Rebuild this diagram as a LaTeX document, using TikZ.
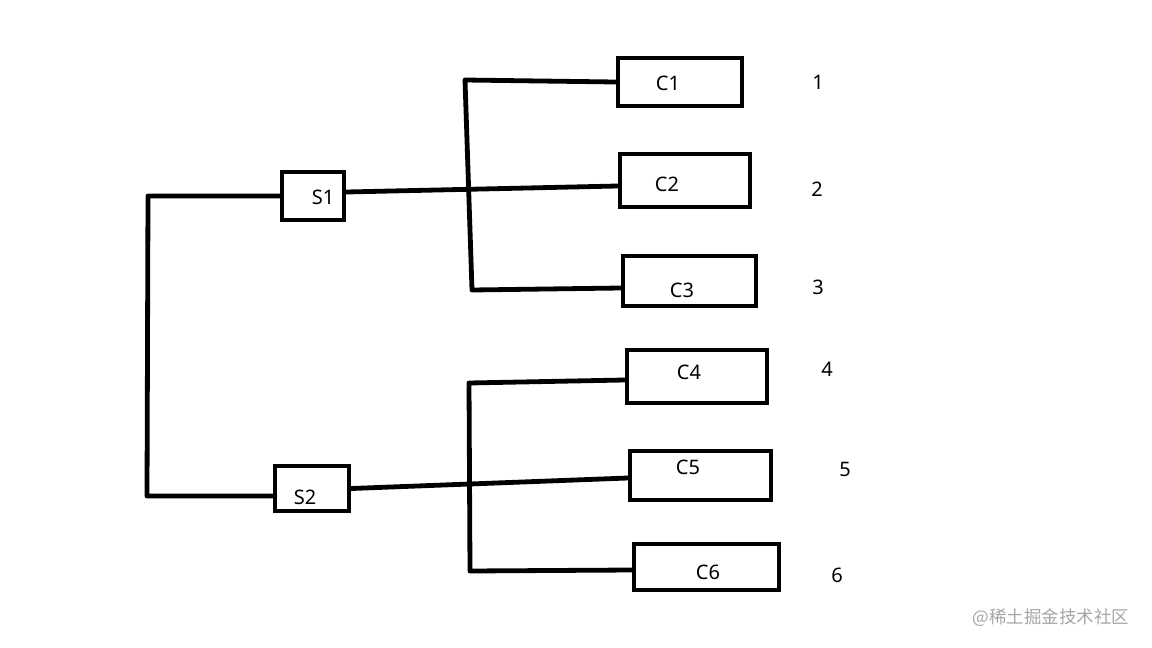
\documentclass[tikz,border=0pt]{standalone}
\usepackage{fontspec}
\setmainfont{Noto Sans}
\newfontfamily\cjk{Noto Sans CJK SC}
\begin{document}
\begin{tikzpicture}[x=1pt,y=-1pt,
  wire/.style={line width=4.8pt,line join=round,line cap=round},
  box/.style={draw,line width=4.8pt,rectangle,inner sep=0pt},
  lbl/.style={font=\fontsize{20}{24}\selectfont},
  num/.style={font=\fontsize{20}{24}\selectfont}]
\useasboundingbox[fill=white] (0,0) rectangle (1152,648);
% boxes
\node[box,minimum width=62pt,minimum height=48pt,label={[lbl,xshift=10pt,yshift=-1pt]center:S1}] (s1) at (313,196) {};
\node[box,minimum width=74pt,minimum height=45pt,label={[lbl,xshift=-7pt,yshift=-8.5pt]center:S2}] (s2) at (312,488.5) {};
\node[box,minimum width=124pt,minimum height=48pt,label={[lbl,xshift=-12pt,yshift=-1pt]center:C1}] (c1) at (680,82) {};
\node[box,minimum width=130pt,minimum height=53pt,label={[lbl,xshift=-18pt,yshift=-3.5pt]center:C2}] (c2) at (685,180.5) {};
\node[box,minimum width=133pt,minimum height=50pt,label={[lbl,xshift=-7.5pt,yshift=-9pt]center:C3}] (c3) at (689.5,281) {};
\node[box,minimum width=140pt,minimum height=53pt,label={[lbl,xshift=-8pt,yshift=4.5pt]center:C4}] (c4) at (697,376.5) {};
\node[box,minimum width=141pt,minimum height=49pt,label={[lbl,xshift=-12.5pt,yshift=8.5pt]center:C5}] (c5) at (700.5,475.5) {};
\node[box,minimum width=145pt,minimum height=46pt,label={[lbl,xshift=1.5pt,yshift=-5pt]center:C6}] (c6) at (706.5,567) {};
% numbers
\node[num] (n1) at (818,82) {1};
\node[num] (n2) at (817,189) {2};
\node[num] (n3) at (818,287) {3};
\node[num] (n4) at (827,369) {4};
\node[num] (n5) at (845,469) {5};
\node[num] (n6) at (837,575) {6};
% corner coordinates
\coordinate (l1) at (148,196);
\coordinate (l2) at (147,496);
\coordinate (t1) at (465,80);
\coordinate (b1) at (472,290);
\coordinate (t2) at (469,383);
\coordinate (b2) at (470,571);
% connectors
\draw[wire] (s1.west) -- (l1) -- (l2) -- (s2.west |- l2);
\draw[wire] ([yshift=4pt]s1.east) -- ([yshift=-5.5pt]c2.west);
\draw[wire] (c1.west) -- (t1) -- (b1) -- ([yshift=-7pt]c3.west);
\draw[wire] (s2.east) -- ([yshift=-2.5pt]c5.west);
\draw[wire] ([yshift=-3.5pt]c4.west) -- (t2) -- (b2) -- ([yshift=-3pt]c6.west);
% watermark
\node[text=black!35,font=\cjk\fontsize{17.5}{20}\selectfont,anchor=west] (wm) at (969,618) {@稀土掘金技术社区};
\end{tikzpicture}
\end{document}
